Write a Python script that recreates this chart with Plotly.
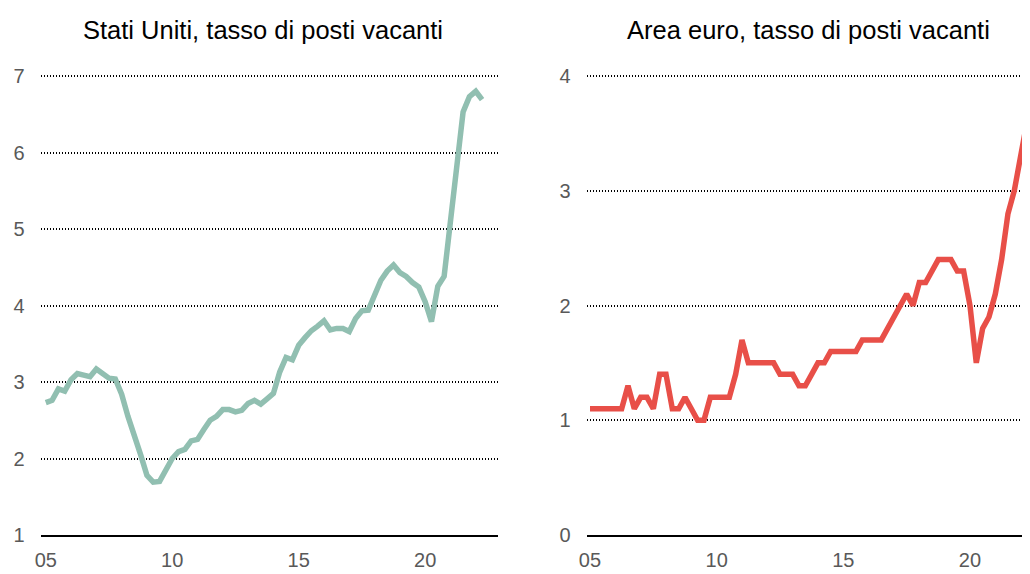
import plotly.graph_objects as go

# The page places the figure 8px from the top-left corner of the window,
# so the figure is sized to fill the remaining 1022x566 area.
OFF = 8
W, H = 1030 - OFF, 574 - OFF

# Quarterly periods 2005Q1 .. 2022Q2
start_year = 2005
n_quarters = 70
quarters = [start_year + i / 4 for i in range(n_quarters)]

us_vacancy = [
    2.73, 2.76, 2.91, 2.88, 3.03, 3.11, 3.09, 3.07, 3.17, 3.12,
    3.05, 3.04, 2.84, 2.55, 2.32, 2.05, 1.78, 1.69, 1.70, 1.85,
    2.00, 2.09, 2.12, 2.23, 2.25, 2.38, 2.50, 2.55, 2.64, 2.64,
    2.61, 2.63, 2.72, 2.76, 2.71, 2.78, 2.85, 3.13, 3.32, 3.29,
    3.48, 3.58, 3.67, 3.73, 3.80, 3.68, 3.70, 3.70, 3.66, 3.83,
    3.93, 3.94, 4.14, 4.33, 4.45, 4.53, 4.43, 4.38, 4.30, 4.24,
    4.05, 3.79, 4.25, 4.38, 5.10, 5.85, 6.53, 6.73, 6.80, 6.69,
]

ea_vacancy = [
    1.1, 1.1, 1.1, 1.1, 1.1, 1.1, 1.3, 1.1, 1.2, 1.2,
    1.1, 1.4, 1.4, 1.1, 1.1, 1.2, 1.1, 1.0, 1.0, 1.2,
    1.2, 1.2, 1.2, 1.4, 1.7, 1.5, 1.5, 1.5, 1.5, 1.5,
    1.4, 1.4, 1.4, 1.3, 1.3, 1.4, 1.5, 1.5, 1.6, 1.6,
    1.6, 1.6, 1.6, 1.7, 1.7, 1.7, 1.7, 1.8, 1.9, 2.0,
    2.1, 2.0, 2.2, 2.2, 2.3, 2.4, 2.4, 2.4, 2.3, 2.3,
    2.0, 1.5, 1.8, 1.9, 2.1, 2.4, 2.8, 3.0, 3.3, 3.6,
]

tick_years = [2005, 2010, 2015, 2020]
tick_text = ["05", "10", "15", "20"]
titles = ["Stati Uniti, tasso di posti vacanti", "Area euro, tasso di posti vacanti"]

FONT = "Liberation Sans Narrow, Arial Narrow, Liberation Sans, Arial, sans-serif"
US_COLOR = "#91bfb1"
EA_COLOR = "#e84f48"
TICK_COLOR = "#595959"

fig = go.Figure()
fig.add_trace(go.Scatter(x=quarters, y=us_vacancy, mode="lines",
                         line=dict(color=US_COLOR, width=5.5),
                         xaxis="x", yaxis="y", showlegend=False))
fig.add_trace(go.Scatter(x=quarters, y=ea_vacancy, mode="lines",
                         line=dict(color=EA_COLOR, width=5.5),
                         xaxis="x2", yaxis="y2", showlegend=False))

def px_x(p):
    return (p - OFF) / W

def px_y(p):
    return 1 - (p - OFF) / H

ydom = [px_y(535), px_y(73.7)]
x1dom = [px_x(40.7), px_x(498)]
x2dom = [px_x(586.7), 1.0]

common_x = dict(tickvals=tick_years, ticktext=tick_text, showgrid=False,
                showline=True, linecolor="black", linewidth=2, ticks="",
                zeroline=False, automargin=False,
                tickfont=dict(family=FONT, size=20, color=TICK_COLOR),
                ticklabelstandoff=6)
common_y = dict(showgrid=True, gridcolor="black", griddash="1.5px,1.5px", gridwidth=1.5,
                zeroline=False, showline=False, ticks="", automargin=False,
                tickfont=dict(family=FONT, size=20, color=TICK_COLOR),
                ticklabelstandoff=15)

fig.update_layout(
    width=W, height=H,
    margin=dict(l=0, r=0, t=0, b=0),
    paper_bgcolor="white", plot_bgcolor="white",
    xaxis=dict(domain=x1dom, range=[2004.80, 2022.88], anchor="y", **common_x),
    yaxis=dict(domain=ydom, range=[1, 7.03], tick0=1, dtick=1, anchor="x", **common_y),
    xaxis2=dict(domain=x2dom, range=[2004.87, 2022.37], anchor="y2", **common_x),
    yaxis2=dict(domain=ydom, range=[0, 4.02], tick0=0, dtick=1, anchor="x2", **common_y),
    annotations=[
        dict(text=titles[0], x=px_x(263), y=px_y(30), xref="paper", yref="paper",
             xanchor="center", yanchor="middle", showarrow=False,
             font=dict(family=FONT, size=25.5, color="black")),
        dict(text=titles[1], x=px_x(808), y=px_y(30), xref="paper", yref="paper",
             xanchor="center", yanchor="middle", showarrow=False,
             font=dict(family=FONT, size=25.5, color="black")),
    ],
)

fig.write_html("out.html")
